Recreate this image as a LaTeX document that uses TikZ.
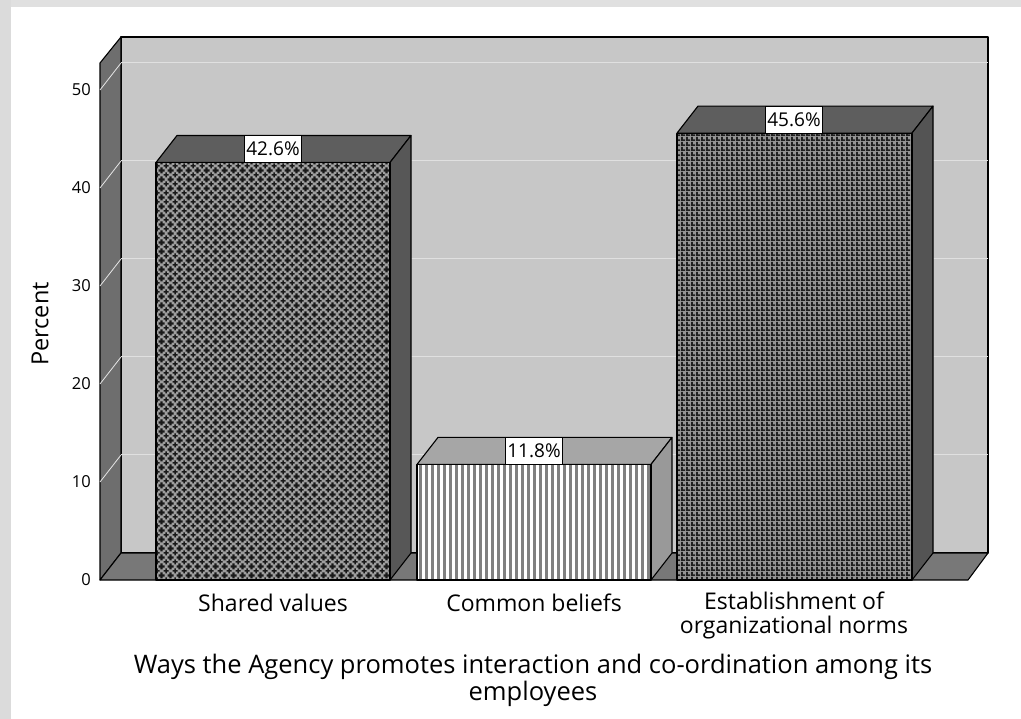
\documentclass[tikz,border=0pt]{standalone}
\usepackage{fontspec}
\setmainfont{Open Sans}
\usetikzlibrary{patterns.meta}

% fill patterns of the three bars
\tikzdeclarepattern{
  name=plusmarks,
  type=uncolored,
  bounding box={(0pt,0pt) and (9pt,9pt)},
  tile size={(9pt,9pt)},
  code={
    \foreach \px/\py in {0/0,9/0,0/9,9/9,4.5/4.5}{
      \fill (\px pt-2.8pt,\py pt-0.8pt) rectangle (\px pt+2.8pt,\py pt+0.8pt);
      \fill (\px pt-0.8pt,\py pt-2.8pt) rectangle (\px pt+0.8pt,\py pt+2.8pt);
    }
  }
}
\tikzdeclarepattern{
  name=vstripes,
  type=uncolored,
  bounding box={(0pt,0pt) and (5.9pt,60pt)},
  tile size={(5.9pt,60pt)},
  code={\fill (0pt,-1pt) rectangle (3pt,61pt);}
}
\tikzdeclarepattern{
  name=finegrid,
  type=uncolored,
  bounding box={(0pt,0pt) and (4.6pt,4.6pt)},
  tile size={(4.6pt,4.6pt)},
  code={
    \fill (0pt,0pt) rectangle (4.6pt,1.9pt);
    \fill (0pt,0pt) rectangle (1.9pt,4.6pt);
  }
}

\begin{document}
\begin{tikzpicture}[x=1pt, y=-1pt,
  face/.style={draw=black, line width=1.1pt, line join=round},
  ticklbl/.style={anchor=east, inner sep=0pt, font=\fontsize{16.5}{18}\selectfont},
  catlbl/.style={align=center, inner sep=0pt, font=\fontsize{23}{24}\selectfont},
  pctbox/.style={draw=black, line width=0.8pt, fill=white, minimum height=27pt, inner xsep=2pt, inner ysep=0pt, font=\fontsize{19}{20}\selectfont}]
        \useasboundingbox (0,0) rectangle (1021,719);
        \fill [fill=white] (0,0) rectangle (1021,719);
        % grey frame round the image
        \fill [fill=black!12] (0,0) rectangle (1021,7);
        \fill [fill=black!14] (0,0) rectangle (11,719);

        % walls and floor
        \fill [face, fill=black!22] (121,37) rectangle (988,553);
        \fill [face, fill=black!57] (100,63) -- (121,37) -- (121,553) -- (100,580) -- cycle;
        \fill [face, fill=black!53] (100,580) -- (121,553) -- (988,553) -- (968,580) -- cycle;

        % grid lines and ticks
        \draw [black!12, line width=1pt] (121,455) -- (988,455);
        \draw [black!12, line width=1pt] (121,357) -- (988,357);
        \draw [black!12, line width=1pt] (121,259) -- (988,259);
        \draw [black!12, line width=1pt] (121,161) -- (988,161);
        \draw [black!12, line width=1pt] (121,63) -- (988,63);
        \draw [black!10, line width=0.8pt] (100,482) -- (121,455);
        \draw [black!10, line width=0.8pt] (100,384) -- (121,357);
        \draw [black!10, line width=0.8pt] (100,286) -- (121,259);
        \draw [black!10, line width=0.8pt] (100,188) -- (121,161);
        \draw [black!10, line width=0.8pt] (100,90) -- (121,63);

        \node[ticklbl] (t0) at (91,580) {0};
        \node[ticklbl] (t10) at (91,482) {10};
        \node[ticklbl] (t20) at (91,384) {20};
        \node[ticklbl] (t30) at (91,286) {30};
        \node[ticklbl] (t40) at (91,188) {40};
        \node[ticklbl] (t50) at (91,90) {50};
        \node[rotate=90, font=\fontsize{23.5}{25}\selectfont] (ylabel) at (40,324) {Percent};

        % bar: Shared values (42.6)
        \fill [face, fill=black!63] (156,162.5) -- (390,162.5) -- (411,135.5) -- (177,135.5) -- cycle;
        \fill [face, fill=black!66] (390,580) -- (390,162.5) -- (411,135.5) -- (411,553) -- cycle;
        \fill [fill=black!38] (156,162.5) rectangle (390,580);
        \fill [pattern=plusmarks, pattern color=black!90] (156,162.5) rectangle (390,580);
        \draw [face] (156,162.5) rectangle (390,580);
        \node[pctbox] (pshared) at (273,149) {42.6\%};

        % bar: Common beliefs (11.8)
        \fill [face, fill=black!35] (417,464.4) -- (651,464.4) -- (672,437.4) -- (438,437.4) -- cycle;
        \fill [face, fill=black!40] (651,580) -- (651,464.4) -- (672,437.4) -- (672,553) -- cycle;
        \fill [fill=white] (417,464.4) rectangle (651,580);
        \fill [pattern=vstripes, pattern color=black!50] (417,464.4) rectangle (651,580);
        \draw [face] (417,464.4) rectangle (651,580);
        \node[pctbox] (pcommon) at (534,451) {11.8\%};

        % bar: Establishment of organizational norms (45.6)
        \fill [face, fill=black!63] (677,133.1) -- (912,133.1) -- (933,106.1) -- (698,106.1) -- cycle;
        \fill [face, fill=black!67] (912,580) -- (912,133.1) -- (933,106.1) -- (933,553) -- cycle;
        \fill [fill=black!42] (677,133.1) rectangle (912,580);
        \fill [pattern=finegrid, pattern color=black!88] (677,133.1) rectangle (912,580);
        \draw [face] (677,133.1) rectangle (912,580);
        \node[pctbox] (pnorms) at (794,119.6) {45.6\%};

        % category labels and axis title
        \node[catlbl] (cshared) at (273,603) {Shared values};
        \node[catlbl] (ccommon) at (534,603) {Common beliefs};
        \node[catlbl, anchor=north] (cnorms) at (794,592) {Establishment of\\organizational norms};
        \node[align=center, inner sep=0pt, anchor=north, font=\fontsize{25.5}{24}\selectfont] (xlabel) at (533,654) {Ways the Agency promotes interaction and co-ordination among its\\employees};
\end{tikzpicture}
\end{document}
